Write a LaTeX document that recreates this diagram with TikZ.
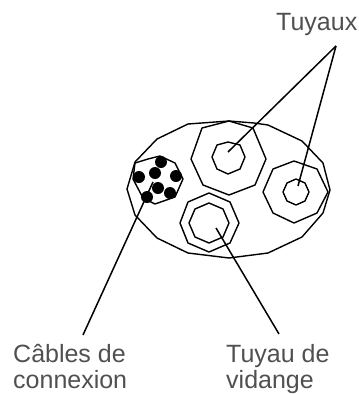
\documentclass[tikz,border=0pt]{standalone}
\usepackage{fontspec}
\setmainfont{Liberation Sans}
\usetikzlibrary{positioning}
\definecolor{labelgrey}{HTML}{505050}
\tikzset{
  outline/.style={draw=black,line width=1.4pt,line join=round},
  leader/.style={draw=black,line width=1.5pt},
  strand/.style={draw=none,circle,fill=black,minimum size=12pt,inner sep=0pt},
  caption/.style={text=labelgrey,font=\fontsize{25pt}{26pt}\selectfont,align=left,inner sep=0pt}
}
\begin{document}
\begin{tikzpicture}[x=1pt,y=-1pt]
\useasboundingbox (0,0) rectangle (359,394);
\draw[outline] (229,121) -- (254,123) -- (268,125) -- (302,141) -- (323,163) -- (330,190) -- (323,213) -- (302,237) -- (268,253) -- (229,258) -- (188,253) -- (157,238) -- (135,215) -- (127,189) -- (135,162) -- (157,139) -- (188,124) -- cycle;
\draw[outline] (229,121) -- (253,128) -- (266,159) -- (255,185) -- (229,195) -- (203,185) -- (191,159) -- (202,128) -- cycle;
\draw[outline] (228,142) -- (240,145) -- (245,157) -- (240,169) -- (228,174) -- (217,169) -- (212,157) -- (217,145) -- cycle;
\draw[outline] (294,161) -- (317,169) -- (328,192) -- (317,213) -- (294,223) -- (273,213) -- (263,192) -- (273,169) -- cycle;
\draw[outline] (296,179) -- (305,183) -- (309,192) -- (305,201) -- (296,205) -- (287,201) -- (283,192) -- (287,183) -- cycle;
\draw[outline] (209,193) -- (230,202) -- (239,223) -- (230,243) -- (209,252) -- (188,243) -- (180,223) -- (188,202) -- cycle;
\draw[outline] (209,203) -- (223,209) -- (229,223) -- (223,237) -- (209,243) -- (195,237) -- (189,223) -- (195,209) -- cycle;
\draw[outline] (160,156) -- (175,163) -- (183,179) -- (175,197) -- (155,204) -- (143,198) -- (133,179) -- (135,163) -- (148,159) -- cycle;
\node[strand] (s1) at (161,162) {};
\node[strand] (s2) at (139,177) {};
\node[strand] (s3) at (155,173) {};
\node[strand] (s4) at (176,176) {};
\node[strand] (s5) at (158,188) {};
\node[strand] (s6) at (170,193) {};
\node[strand] (s7) at (147,197) {};
\coordinate (apex) at (336,46);
\coordinate (tube1) at (228,152);
\coordinate (tube2) at (298,186);
\coordinate (drain) at (216,228);
\coordinate (drainend) at (279,334);
\coordinate (bundle) at (153,182);
\coordinate (bundleend) at (83,335);
\draw[leader] (tube1) -- (apex);
\draw[leader] (tube2) -- (apex);
\draw[leader] (drain) -- (drainend);
\draw[leader] (bundle) -- (bundleend);
\node[caption,anchor=base west] (tuyaux) at (276,30) {Tuyaux};
\node[caption,anchor=north west] (cables) at (13,344) {Câbles de\\connexion};
\node[caption,anchor=north west] (vidange) at (226,344) {Tuyau de\\vidange};
\end{tikzpicture}
\end{document}
